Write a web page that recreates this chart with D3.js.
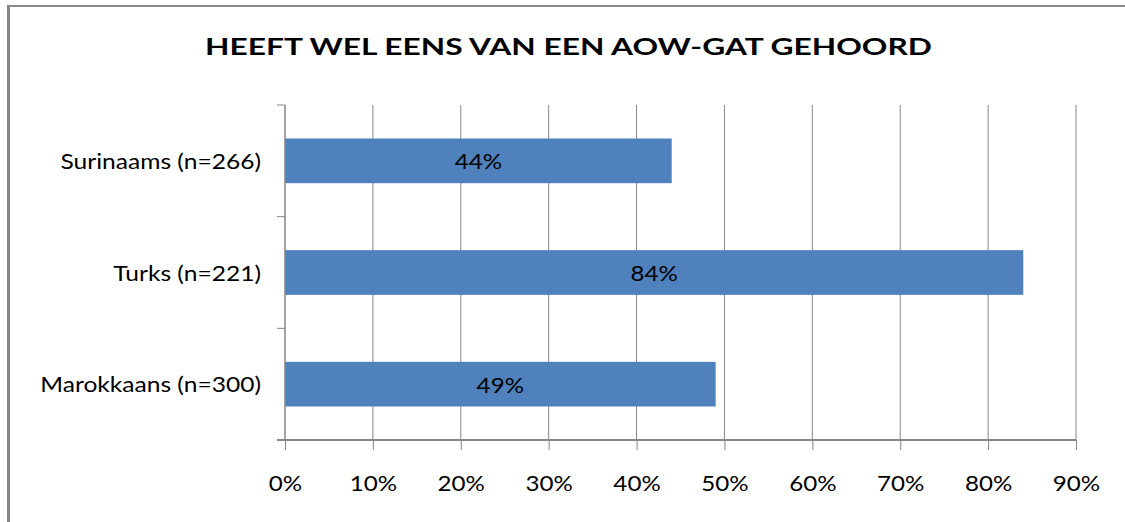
<!DOCTYPE html>
<html><head><meta charset="utf-8">
<script src="https://cdn.jsdelivr.net/npm/d3@7"></script>
<style>html,body{margin:0;padding:0;background:#fff;overflow:hidden;}svg{display:block;font-family:Lato,"Open Sans",sans-serif;}</style>
</head><body>
<script>
const categories = ["Surinaams (n=266)", "Turks (n=221)", "Marokkaans (n=300)"];
const values = [44, 84, 49];
const tickValues = [0, 10, 20, 30, 40, 50, 60, 70, 80, 90];
const title = "HEEFT WEL EENS VAN EEN AOW-GAT GEHOORD";

const W = 1125, H = 522;
const svg = d3.select("body").append("svg").attr("width", W).attr("height", H);
// chart frame (top and left edges visible)
svg.append("line").attr("x1", 7).attr("x2", W).attr("y1", 6).attr("y2", 6)
  .attr("stroke", "#8c8c8c").attr("stroke-width", 2);
svg.append("line").attr("x1", 8.5).attr("x2", 8.5).attr("y1", 5).attr("y2", H)
  .attr("stroke", "#868686").attr("stroke-width", 3);

const x = d3.scaleLinear().domain([0, 90]).range([285, 1076]);
const y = d3.scaleBand().domain(categories).range([105, 440]).paddingInner(0.6).paddingOuter(0.3);
const yb = d3.scaleBand().domain(categories).range([105, 440]);

function stretch(sel, factor) {
  sel.each(function () {
    const l = this.getComputedTextLength();
    d3.select(this).attr("textLength", l * factor).attr("lengthAdjust", "spacingAndGlyphs");
  });
}

// gridlines
svg.append("g").selectAll("line").data(tickValues.slice(1)).join("line")
  .attr("x1", d => x(d)).attr("x2", d => x(d)).attr("y1", 105).attr("y2", 440)
  .attr("stroke", "#868686").attr("stroke-width", 1);

// bars
svg.append("g").selectAll("rect").data(values).join("rect")
  .attr("x", x(0)).attr("y", (d, i) => y(categories[i]))
  .attr("width", d => x(d) - x(0)).attr("height", y.bandwidth()).attr("fill", "#4F81BD");

// bottom axis
const xa = svg.append("g").attr("transform", "translate(0,440)")
  .call(d3.axisBottom(x).tickValues(tickValues).tickSize(10).tickFormat(d => d + "%"));
xa.select(".domain").attr("stroke", "#868686").attr("stroke-width", 2).attr("d", "M277,0H1076");
xa.selectAll(".tick line").attr("stroke", "#868686");
const tickTexts = xa.selectAll("text").attr("y", 51).attr("dy", 0)
  .attr("font-size", 21).attr("fill", "#000").attr("font-family", "Lato");
stretch(tickTexts, 1.15);

// left axis
const boundaries = categories.map(c => yb(c)).concat([440]);
svg.append("g").selectAll("line").data(boundaries).join("line")
  .attr("x1", 277).attr("x2", 285).attr("y1", d => d).attr("y2", d => d)
  .attr("stroke", "#868686");
svg.append("line").attr("x1", 285).attr("x2", 285).attr("y1", 105).attr("y2", 441)
  .attr("stroke", "#868686").attr("stroke-width", 1.5);
const catTexts = svg.append("g").selectAll("text").data(categories).join("text")
  .attr("x", 261).attr("y", d => yb(d) + yb.bandwidth() / 2 + 8)
  .attr("text-anchor", "end").attr("font-size", 21).attr("fill", "#000").text(d => d);
stretch(catTexts, 1.17);

// data labels
const valTexts = svg.append("g").selectAll("text").data(values).join("text")
  .attr("x", d => (x(0) + x(d)) / 2).attr("y", (d, i) => y(categories[i]) + y.bandwidth() / 2 + 8.5)
  .attr("text-anchor", "middle").attr("font-size", 21).attr("fill", "#000").text(d => d + "%");
stretch(valTexts, 1.15);

// title
const t = svg.append("text").attr("x", 568.5).attr("y", 55).attr("text-anchor", "middle")
  .attr("font-size", 23).attr("font-weight", "bold").attr("fill", "#000").text(title);
t.attr("textLength", 727).attr("lengthAdjust", "spacingAndGlyphs");
</script>
</body></html>
